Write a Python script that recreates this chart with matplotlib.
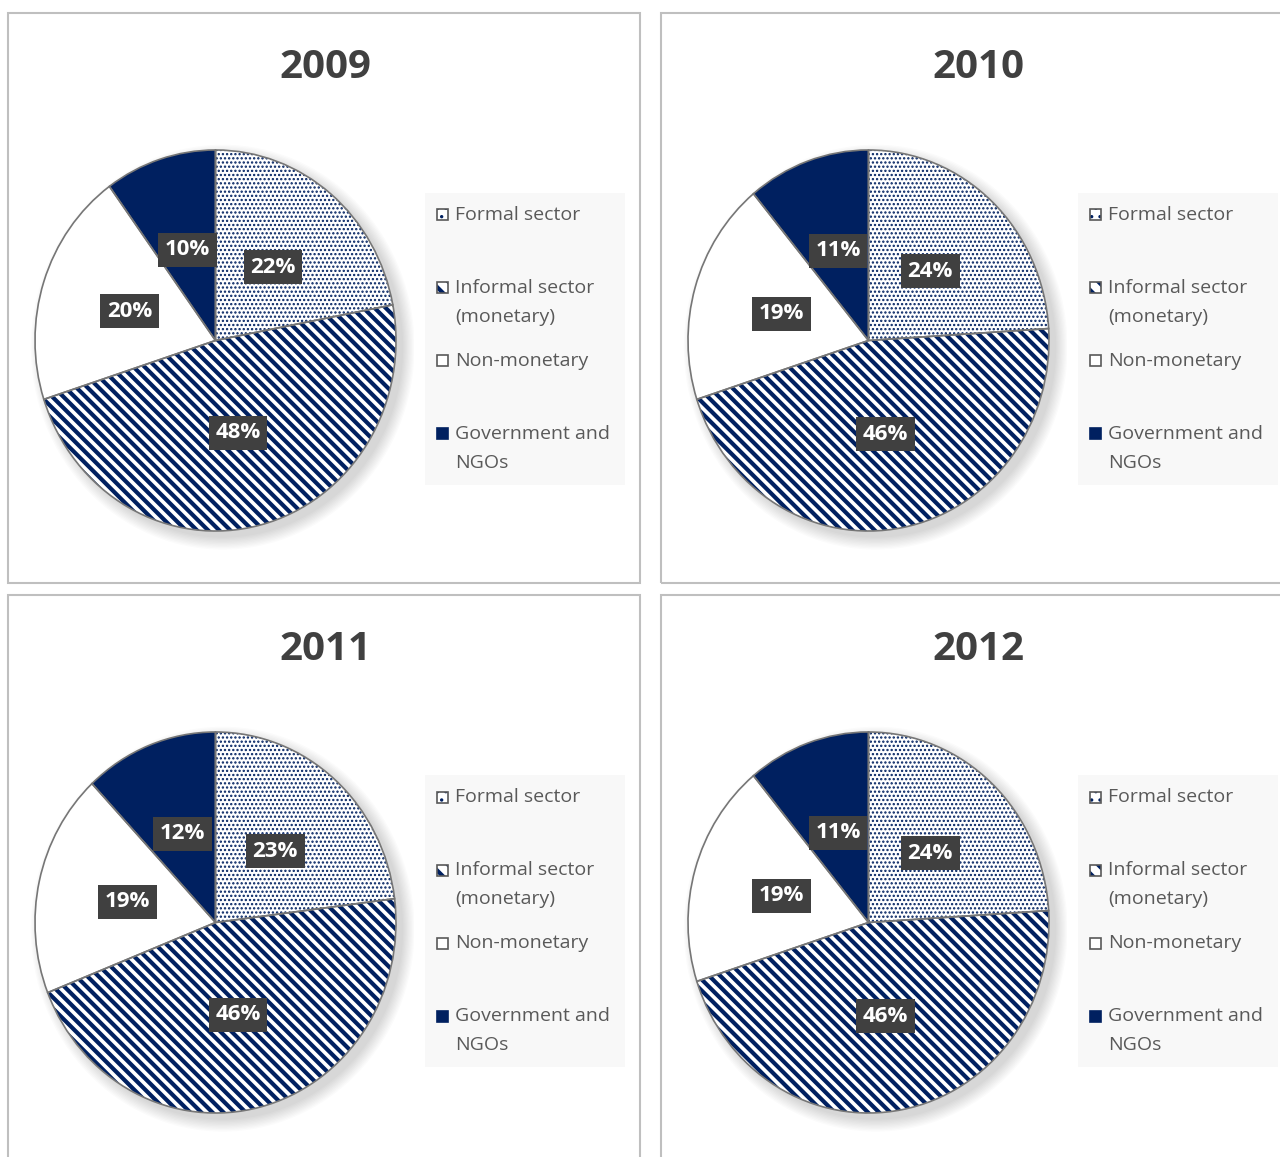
import matplotlib

matplotlib.use("Agg")
import matplotlib.pyplot as plt  # noqa: E402
from matplotlib.patches import Rectangle, Ellipse  # noqa: E402

plt.rcParams["font.family"] = ["Open Sans", "DejaVu Sans"]
plt.rcParams["hatch.linewidth"] = 3.0

# Share of employment by sector (%).
YEARS = ["2009", "2010", "2011", "2012"]
SECTORS = ["Formal sector", "Informal sector\n(monetary)", "Non-monetary", "Government and\nNGOs"]
FORMAL = [22, 24, 23, 24]
INFORMAL = [48, 46, 46, 46]
NON_MONETARY = [20, 19, 19, 19]
GOVERNMENT = [10, 11, 12, 11]

NAVY = "#002060"
EDGE = "#767676"
BORDER = "#bfbfbf"
TITLE = "#404040"
LABEL_BG = "#404040"
LEGEND_BG = "#f8f8f8"
TEXT = "#595959"

HATCHES = ["....", "\\\\\\", "", ""]
FACES = ["white", "white", "white", NAVY]
LEG_HATCHES = ["..", "\\\\", "", ""]

W, H = 1280, 1157
fig = plt.figure(figsize=(W / 100, H / 100), dpi=100)
fig.patch.set_facecolor("white")


def px_axes(x0, y0, w, h):
    return fig.add_axes([x0 / W, 1 - (y0 + h) / H, w / W, h / H])


RX, RY = 180.5, 190.5
for i, year in enumerate(YEARS):
    dx = 653 * (i % 2)
    dy = 582 * (i // 2)

    # panel frame
    fig.patches.append(Rectangle(((8 + dx) / W, 1 - (583 + dy) / H), 632 / W, 570 / H,
                                 transform=fig.transFigure, fill=False,
                                 edgecolor=BORDER, linewidth=1.5))
    fig.text((325 + dx) / W, 1 - (67 + dy) / H, year, ha="center", va="center",
             fontsize=29, fontweight="bold", color=TITLE)

    # pie
    cx, cy = 215.5 + dx, 340.5 + dy
    ax = px_axes(cx - 1.1 * RX, cy - 1.1 * RY, 2.2 * RX, 2.2 * RY)
    values = [FORMAL[i], INFORMAL[i], NON_MONETARY[i], GOVERNMENT[i]]
    for k in range(10):
        ax.add_patch(Ellipse((0.04, -0.035), 2.0 + 0.014 * k, 2.0 + 0.014 * k,
                             facecolor="black", edgecolor="none", alpha=0.014, zorder=0))
    wedges, _, autotexts = ax.pie(
        values, startangle=90, counterclock=False, colors=FACES, hatch=HATCHES,
        autopct="%.0f%%", pctdistance=0.5,
        wedgeprops=dict(edgecolor=NAVY, linewidth=0),
        textprops=dict(color="white", fontsize=16, fontweight="bold"),
    )
    if hasattr(wedges[0], "set_hatch_linewidth"):
        wedges[0].set_hatch_linewidth(1.1)
        wedges[1].set_hatch_linewidth(3.0)
    ax.pie(values, startangle=90, counterclock=False,
           wedgeprops=dict(fill=False, edgecolor=EDGE, linewidth=1.2))
    for t in autotexts:
        t.set_bbox(dict(boxstyle="square,pad=0.3", facecolor=LABEL_BG, edgecolor="none"))
        t.set_zorder(5)
    ax.set_aspect("auto")
    ax.set_xlim(-1.1, 1.1)
    ax.set_ylim(-1.1, 1.1)

    # legend box
    lg = px_axes(425 + dx, 193 + dy, 200, 292)
    lg.set_facecolor(LEGEND_BG)
    for s in lg.spines.values():
        s.set_visible(False)
    lg.set_xticks([])
    lg.set_yticks([])
    lg.set_xlim(0, 200)
    lg.set_ylim(292, 0)
    first_lines = [22, 95, 168, 241]
    for j, label in enumerate(SECTORS):
        y = first_lines[j]
        key = Rectangle((12, y - 5.5), 11, 11, facecolor=FACES[j],
                        hatch=LEG_HATCHES[j], edgecolor=NAVY, linewidth=0)
        lg.add_patch(key)
        if j == 0 and hasattr(key, "set_hatch_linewidth"):
            key.set_hatch_linewidth(1.2)
        lg.add_patch(Rectangle((12, y - 5.5), 11, 11, fill=False,
                               edgecolor=TEXT if j != 3 else NAVY, linewidth=1.2))
        nlines = label.count("\n") + 1
        lg.text(30, y + 14.5 * (nlines - 1), label, va="center", ha="left",
                fontsize=14, color=TEXT, linespacing=1.75)

fig.savefig("out.png", dpi=100, facecolor="white")
